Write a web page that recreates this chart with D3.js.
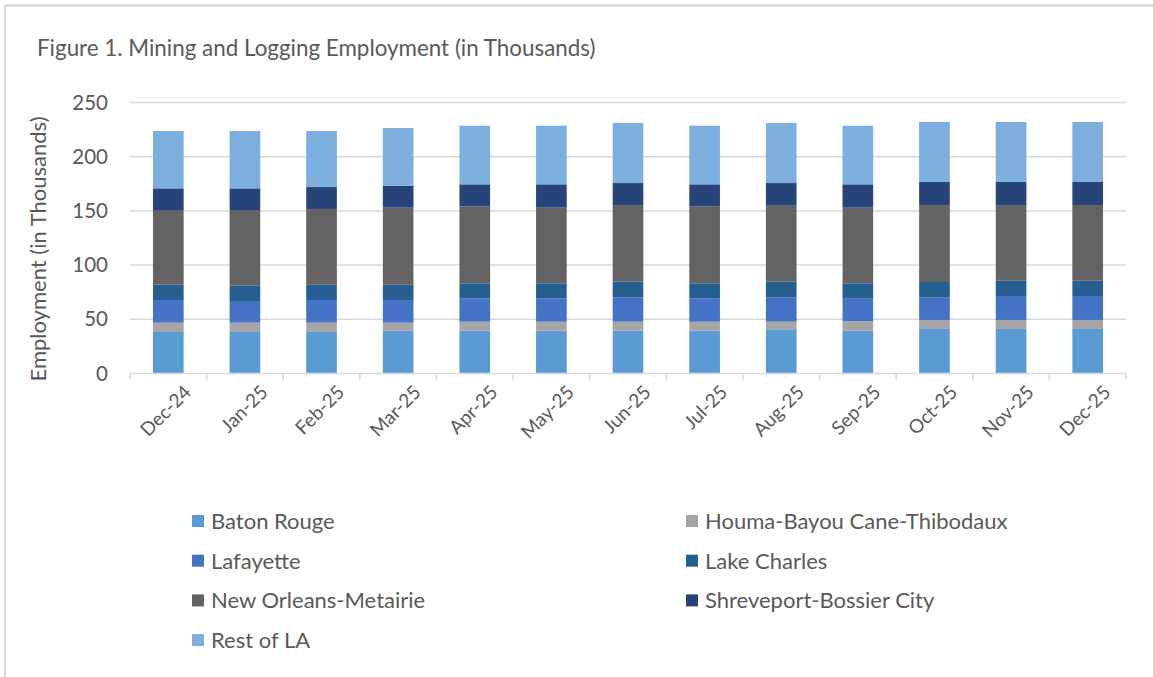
<!DOCTYPE html>
<html>
<head>
<meta charset="utf-8">
<script src="https://cdn.jsdelivr.net/npm/d3@7"></script>
<style>
  html, body { margin: 0; padding: 0; background: #ffffff; }
  svg { display: block; font-family: Lato, "Open Sans", sans-serif; }
</style>
</head>
<body>
<svg id="chart" width="1153" height="677"></svg>
<script>
// Months shown on the category axis
const months = ["Dec-24", "Jan-25", "Feb-25", "Mar-25", "Apr-25", "May-25", "Jun-25",
                "Jul-25", "Aug-25", "Sep-25", "Oct-25", "Nov-25", "Dec-25"];

// Employment by area, thousands, one value per month
const batonRouge  = [38.3, 38.3, 38.3, 39.5, 39.5, 39.5, 39.5, 39.5, 40.8, 39.5, 41.1, 41.1, 41.1];
const houma       = [8.6, 8.6, 8.6, 7.4, 8.3, 8.3, 8.3, 8.3, 7.0, 8.7, 8.3, 8.3, 8.3];
const lafayette   = [20.9, 20.0, 20.9, 20.9, 21.6, 21.6, 22.5, 21.6, 22.5, 20.8, 20.9, 22.1, 22.1];
const lakeCharles = [14.1, 14.1, 14.1, 14.1, 13.8, 13.8, 14.4, 13.8, 14.4, 14.2, 14.1, 14.1, 14.1];
const newOrleans  = [68.9, 69.8, 69.9, 71.1, 71.0, 69.8, 70.7, 71.0, 70.7, 69.8, 71.0, 69.8, 69.8];
const shreveport  = [20.0, 20.0, 20.2, 20.2, 20.3, 21.5, 20.3, 20.3, 20.3, 21.5, 21.3, 21.3, 21.3];
const restOfLA    = [52.9, 52.9, 51.7, 53.3, 54.1, 54.1, 55.4, 54.1, 55.4, 54.1, 55.3, 55.3, 55.3];

const seriesNames = ["Baton Rouge", "Houma-Bayou Cane-Thibodaux", "Lafayette", "Lake Charles",
                     "New Orleans-Metairie", "Shreveport-Bossier City", "Rest of LA"];
const seriesValues = [batonRouge, houma, lafayette, lakeCharles, newOrleans, shreveport, restOfLA];
const seriesColors = ["#5B9BD5", "#A5A5A5", "#4472C4", "#255E91", "#636363", "#264478", "#7CAFDD"];

const yTicks = [0, 50, 100, 150, 200, 250];

const title = "Figure 1. Mining and Logging Employment (in Thousands)";
const yTitle = "Employment (in Thousands)";

// Rows for the stack layout
const rows = months.map((m, i) => {
  const r = { month: m };
  seriesNames.forEach((s, j) => { r[s] = seriesValues[j][i]; });
  return r;
});

const svg = d3.select("#chart");
const textColor = "#595959";
const gridColor = "#d9d9d9";

// Outer frame (top and left edges)
svg.append("line").attr("x1", 5).attr("x2", 1153).attr("y1", 5.5).attr("y2", 5.5)
  .attr("stroke", "#d0d0d0").attr("stroke-width", 2);
svg.append("line").attr("x1", 5).attr("x2", 5).attr("y1", 5).attr("y2", 677)
  .attr("stroke", "#d9d9d9").attr("stroke-width", 2);

// Title
svg.append("text").attr("x", 37).attr("y", 56)
  .attr("fill", textColor).attr("font-size", 22.4).text(title);

const x = d3.scaleBand().domain(months).range([130, 1126]).paddingInner(0.6).paddingOuter(0.3);
const y = d3.scaleLinear().domain([0, 250]).range([373.5, 102.5]);

// Horizontal gridlines
svg.append("g").selectAll("line").data(yTicks.filter(t => t > 0)).join("line")
  .attr("x1", 130).attr("x2", 1126)
  .attr("y1", d => y(d)).attr("y2", d => y(d))
  .attr("stroke", gridColor).attr("stroke-width", 1.5);

// Y axis labels
const yAxis = d3.axisLeft(y).tickValues(yTicks).tickSize(0).tickPadding(0);
const yg = svg.append("g").attr("transform", "translate(108,0)").call(yAxis);
yg.select(".domain").remove();
yg.selectAll("text").attr("fill", textColor).attr("font-size", 20.5)
  .attr("font-family", "Lato, 'Open Sans', sans-serif");

// Stacked bars
const stack = d3.stack().keys(seriesNames);
const layers = stack(rows);
svg.append("g").selectAll("g").data(layers).join("g")
  .attr("fill", (d, i) => seriesColors[i])
  .selectAll("rect").data(d => d).join("rect")
  .attr("x", d => x(d.data.month))
  .attr("width", x.bandwidth())
  .attr("y", d => y(d[1]))
  .attr("height", d => y(d[0]) - y(d[1]));

// X axis line with tick marks on band boundaries
svg.append("line").attr("x1", 130).attr("x2", 1126).attr("y1", y(0)).attr("y2", y(0))
  .attr("stroke", gridColor).attr("stroke-width", 1.5);
const boundaries = months.map(m => x(m) - x.step() * x.paddingInner() / 2);
boundaries[0] = 130;
boundaries.push(1126);
svg.append("g").selectAll("line").data(boundaries).join("line")
  .attr("x1", d => d).attr("x2", d => d)
  .attr("y1", y(0)).attr("y2", y(0) + 7)
  .attr("stroke", gridColor).attr("stroke-width", 1.5);

// Rotated month labels
svg.append("g").selectAll("text").data(months).join("text")
  .attr("transform", d => `translate(${x(d) + x.bandwidth() / 2 + 24},${y(0) + 20}) rotate(-45)`)
  .attr("text-anchor", "end")
  .attr("fill", textColor).attr("font-size", 19)
  .text(d => d);

// Y axis title
svg.append("text")
  .attr("transform", `translate(46,249) rotate(-90)`)
  .attr("text-anchor", "middle")
  .attr("fill", textColor).attr("font-size", 22)
  .text(yTitle);

// Legend: two columns, filled row by row
const legend = svg.append("g");
const legItems = legend.selectAll("g").data(seriesNames).join("g")
  .attr("transform", (d, i) => `translate(${i % 2 === 0 ? 192 : 686},${521 + Math.floor(i / 2) * 39.7})`);
legItems.append("rect").attr("x", 0).attr("y", -6).attr("width", 12).attr("height", 12)
  .attr("fill", (d, i) => seriesColors[i]);
legItems.append("text").attr("x", 19).attr("y", 8)
  .attr("fill", textColor).attr("font-size", 22).text(d => d);
</script>
</body>
</html>
